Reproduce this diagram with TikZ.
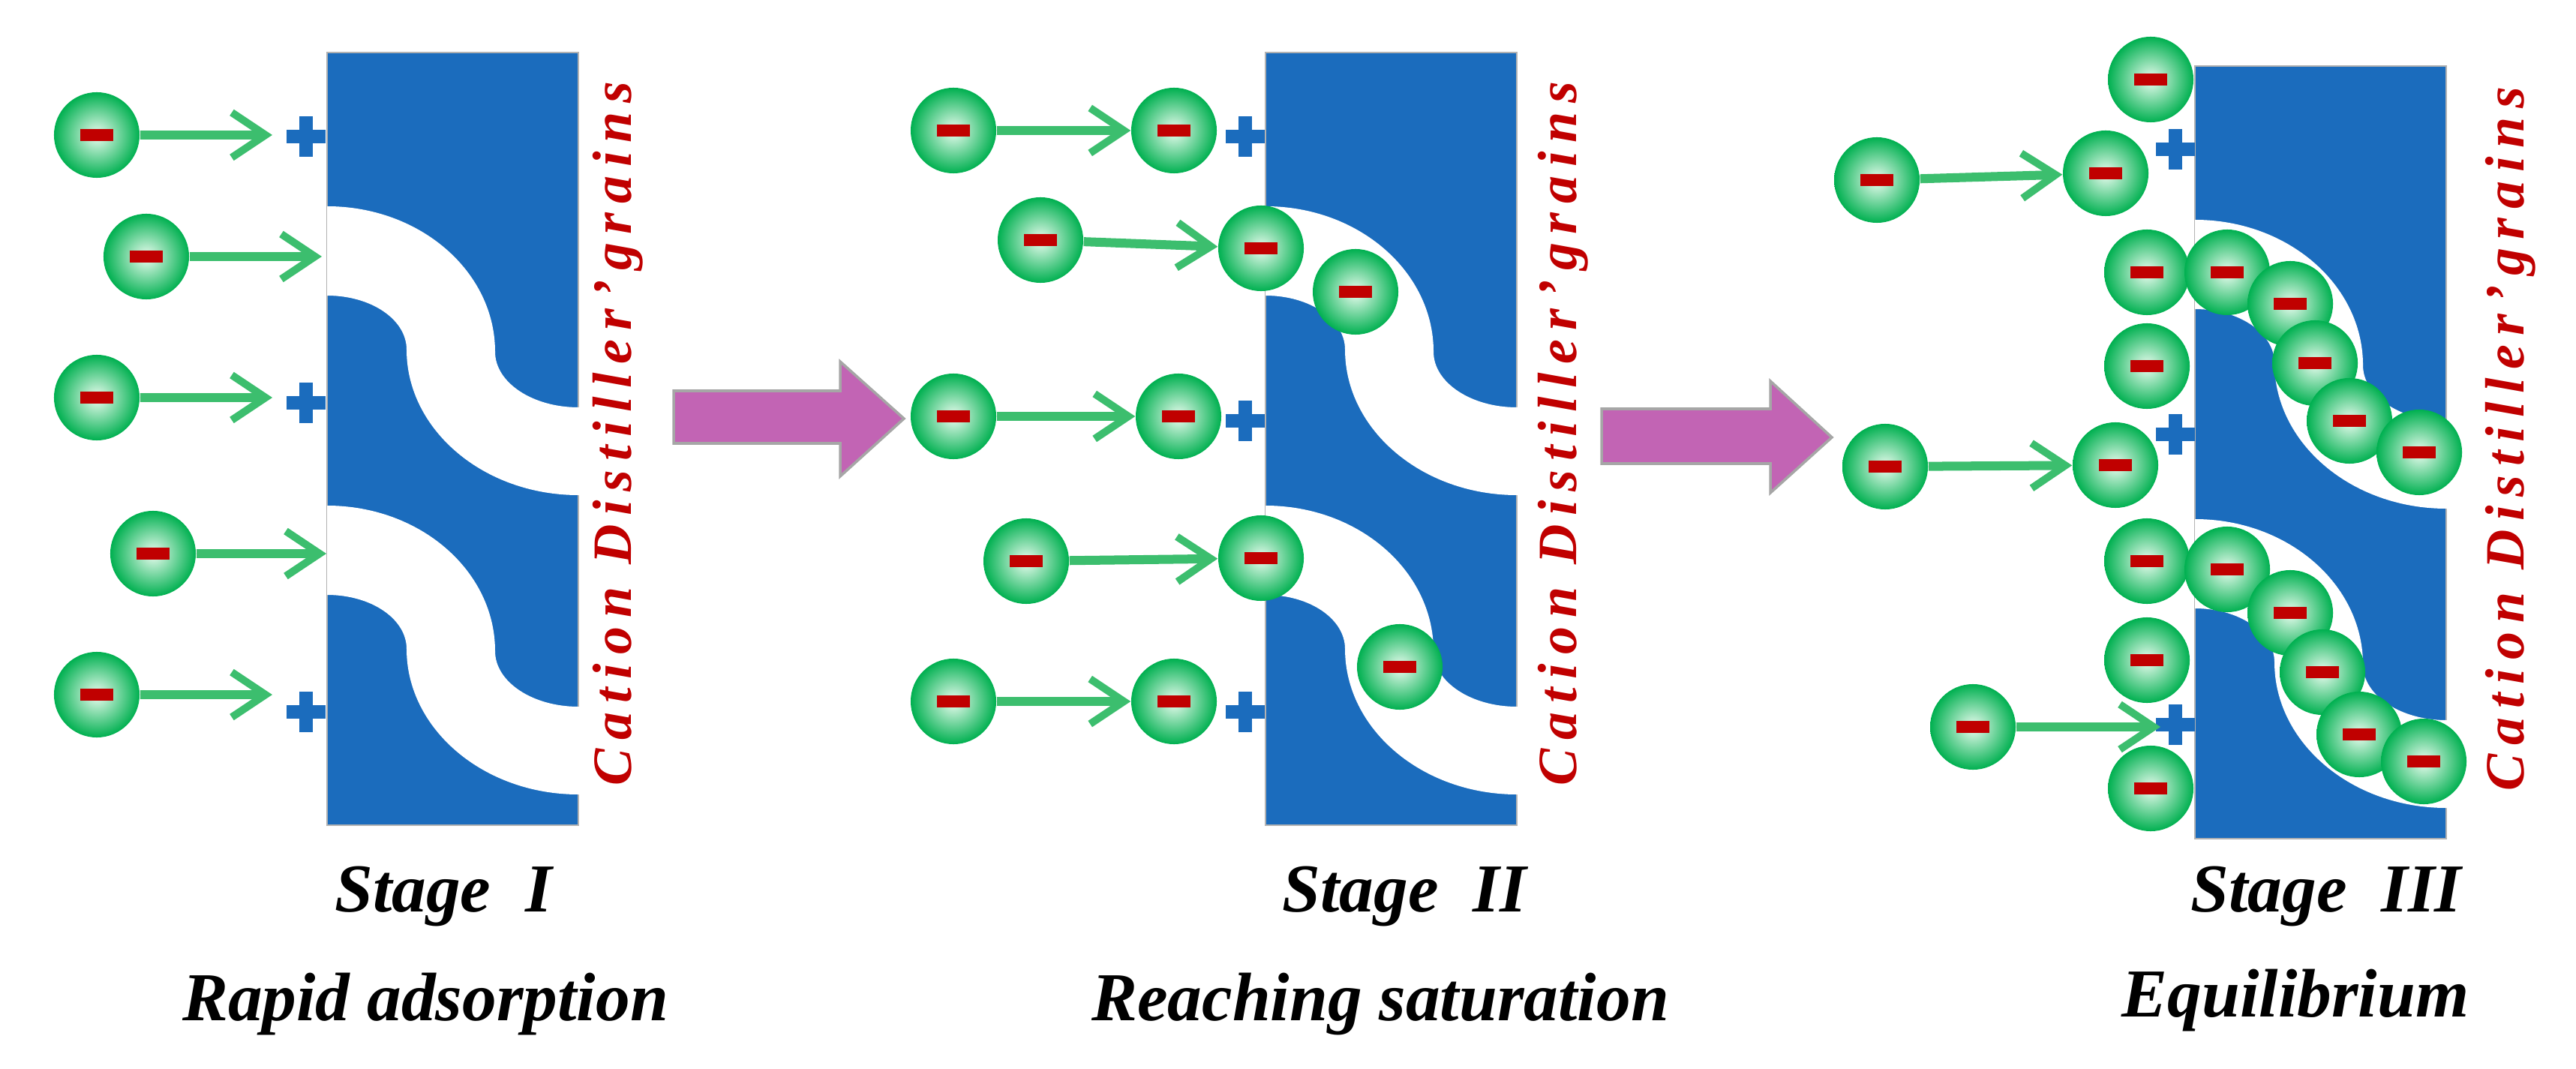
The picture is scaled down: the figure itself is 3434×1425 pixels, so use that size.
\documentclass[tikz,border=0pt]{standalone}
\usepackage{fontspec}
\setmainfont{Liberation Serif}
\usetikzlibrary{arrows.meta,calc}
\definecolor{blk}{RGB}{27,108,189}
\definecolor{grn}{RGB}{0,176,80}
\definecolor{agrn}{RGB}{60,190,110}
\definecolor{mred}{RGB}{192,0,0}
\definecolor{mag}{RGB}{194,100,180}
\begin{document}
\begin{tikzpicture}[x=0.01cm,y=-0.01cm,
  ball/.style={circle,minimum size=1.14cm,inner sep=0pt,shading=radial,inner color={rgb,255:red,235;green,252;blue,240},outer color=grn,
    path picture={\fill[mred] ($(path picture bounding box.center)+(-22,-8)$) rectangle ++(44,16);}},
  mv/.style={draw=agrn,line width=0.12cm,-{Straight Barb[length=0.45cm,width=0.6cm,line width=0.1cm]}},
  lab/.style={font=\fontsize{26}{30}\selectfont\bfseries\itshape},
  cat/.style={rotate=90,text=mred,font=\fontsize{21}{24}\selectfont\bfseries\itshape\addfontfeatures{LetterSpace=16}},
  bigarr/.style={fill=mag,draw=gray!70,line width=1pt}]
\useasboundingbox (0,0) rectangle (3434,1425);
\newcommand{\grain}[2]{%
\begin{scope}[shift={(#1,#2)}]
\fill[blk,draw=gray!60,line width=0.5pt] (436,70) rectangle (771,1100);
\foreach \o in {0,399}{
\fill[white] (436,275+\o) .. controls (560,275+\o) and (660,362+\o) .. (660,469+\o)
  .. controls (660,510+\o) and (710,543+\o) .. (771,543+\o) -- (772,543+\o) -- (772,660+\o) -- (771,660+\o)
  .. controls (645,660+\o) and (542,573+\o) .. (542,466+\o)
  .. controls (542,426+\o) and (495,394+\o) .. (436,394+\o) -- cycle;}
\end{scope}}
\newcommand{\plus}[3]{\fill[blk] (#1-26,#2-9) rectangle (#1+26,#2+9); \fill[blk] (#1-9,#2-27) rectangle (#1+9,#2+27); \coordinate (#3) at (#1-45,#2);}
% blocks
\grain{0}{0}
\grain{1251}{0}
\grain{2490}{18}
% pluses
\plus{408}{182}{p1a}\plus{408}{537}{p1b}\plus{408}{949}{p1c}
\plus{1660}{182}{p2a}\plus{1660}{561}{p2b}\plus{1660}{949}{p2c}
\plus{2900}{199}{p3a}\plus{2900}{579}{p3b}\plus{2900}{966}{p3c}
% big arrows
\path[bigarr] (898,521)--(1120,521)--(1120,482)--(1205,558)--(1120,635)--(1120,591)--(898,591)--cycle;
\path[bigarr] (2135,545)--(2360,545)--(2360,508)--(2442,583)--(2360,657)--(2360,618)--(2135,618)--cycle;
% stage I
\node[ball] (a1) at (129,180) {};
\node[ball] (a2) at (195,342) {};
\node[ball] (a3) at (129,530) {};
\node[ball] (a4) at (204,738) {};
\node[ball] (a5) at (129,926) {};
\coordinate (t2) at (429,342); \coordinate (t4) at (435,738);
\draw[mv] (a1) -- (363,180);
\draw[mv] (a2) -- (t2);
\draw[mv] (a3) -- (363,530);
\draw[mv] (a4) -- (t4);
\draw[mv] (a5) -- (363,926);
% stage II
\node[ball] (b1) at (1271,174) {};
\node[ball] (b2) at (1565,174) {};
\node[ball] (b3) at (1387,320) {};
\node[ball] (b4) at (1681,331) {};
\node[ball] (b5) at (1807,389) {};
\node[ball] (b6) at (1271,555) {};
\node[ball] (b7) at (1571,555) {};
\node[ball] (b8) at (1368,748) {};
\node[ball] (b9) at (1681,744) {};
\node[ball] (b10) at (1866,889) {};
\node[ball] (b11) at (1271,935) {};
\node[ball] (b12) at (1565,935) {};
\draw[mv] (b1) -- (b2);
\draw[mv] (b3) -- (b4);
\draw[mv] (b6) -- (b7);
\draw[mv] (b8) -- (b9);
\draw[mv] (b11) -- (b12);
% stage III
\foreach \n/\x/\y in {c1/2867/106,c3/2807/231,c4/2862/363,c5/2969/363,c6/3053/405,c7/3086/484,c8/2862/488,c9/3132/561,c10/3225/603,c12/2820/620,c13/2862/748,c14/2969/759,c15/3053/817,c16/3096/896,c17/3145/979,c18/3231/1015,c19/2862/880,c21/2867/1051}
  \node[ball] (\n) at (\x,\y) {};
\node[ball] (c2) at (2502,240) {};
\node[ball] (c11) at (2513,622) {};
\node[ball] (c20) at (2630,969) {};
\coordinate (t20) at (2880,969);
\draw[mv] (c2) -- (c3);
\draw[mv] (c11) -- (c12);
\draw[mv] (c20) -- (t20);
% vertical labels
\node[cat] (g1) at (824,578) {Cation Distiller’grains};
\node[cat] (g2) at (2084,578) {Cation Distiller’grains};
\node[cat] (g3) at (3347,585) {Cation Distiller’grains};
% captions
\node[lab,anchor=base] (s1) at (591,1215) {Stage~~I};
\node[lab,anchor=base] (s2) at (1872,1215) {Stage~~II};
\node[lab,anchor=base] (s3) at (3101,1215) {Stage~~III};
\node[lab,anchor=base] (r1) at (567,1360) {Rapid adsorption};
\node[lab,anchor=base] (r2) at (1840,1360) {Reaching saturation};
\node[lab,anchor=base] (r3) at (3060,1355) {Equilibrium};
\end{tikzpicture}
\end{document}
